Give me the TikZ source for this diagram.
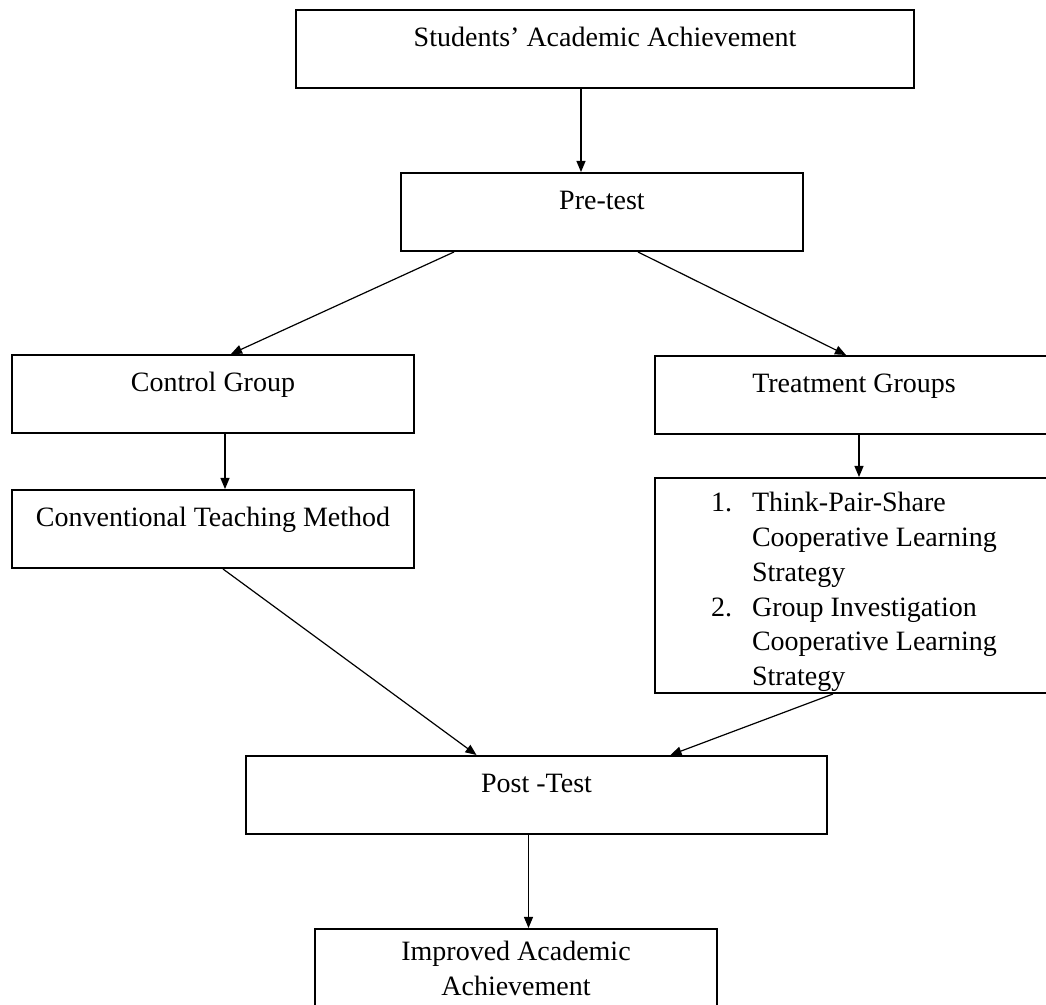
\documentclass[tikz,border=0pt]{standalone}
\usepackage{fontspec}
\setmainfont{Liberation Serif}
\usetikzlibrary{arrows.meta}

\begin{document}
\begin{tikzpicture}[x=0.5pt,y=-0.5pt,font=\fontsize{14}{17.35}\selectfont,
    box/.style={draw,line width=1pt,anchor=north west,inner sep=0pt,
      text height=18.5pt,text depth=20.5pt},
    flow/.style={-{Triangle[length=5.5pt,width=4.5pt]},line width=0.6pt}]
      \useasboundingbox (0,0) rectangle (1046,1005);
      \node[box,minimum width=309pt] (ach) at (295,9)
        {Students' Academic Achievement};
      \node[box,minimum width=201pt] (pre) at (400,172) {Pre-test};
      \node[box,minimum width=201pt] (ctrl) at (11,354) {Control Group};
      \node[box,minimum width=199pt] (treat) at (654,355) {Treatment Groups};
      \node[box,minimum width=201pt] (conv) at (11,489)
        {Conventional Teaching Method};
      \node[box,minimum width=199pt,text height=17pt,text depth=90.5pt]
        (strat) at (654,477)
        {\begin{tabular}[t]{@{}l@{\hspace{10pt}}l@{}}
          1. & Think-Pair-Share\\
             & Cooperative Learning\\
             & Strategy\\
          2. & Group Investigation\\
             & Cooperative Learning\\
             & Strategy
        \end{tabular}};
      \node[box,minimum width=290.5pt] (post) at (245,755) {Post -Test};
      \node[box,minimum width=201pt,text height=16pt,text depth=45pt]
        (impr) at (314,928)
        {\begin{tabular}[t]{@{}c@{}}
          Improved Academic\\
          Achievement
        \end{tabular}};
      \draw[flow] ([xshift=-12pt]ach.south) -- ([xshift=-12pt]ach.south |- pre.north);
      \draw[flow] ([xshift=-74pt]pre.south) -- ([xshift=9pt]ctrl.north);
      \draw[flow] ([xshift=18pt]pre.south) -- ([xshift=-4pt]treat.north);
      \draw[flow] ([xshift=6pt]ctrl.south) -- ([xshift=6pt]ctrl.south |- conv.north);
      \draw[flow] ([xshift=2.5pt]treat.south) -- ([xshift=2.5pt]treat.south |- strat.north);
      \draw[flow] ([xshift=5pt]conv.south) -- ([xshift=-30pt]post.north);
      \draw[flow] ([xshift=-10.5pt]strat.south) -- ([xshift=67pt]post.north);
      \draw[flow] ([xshift=-4pt]post.south) -- ([xshift=-4pt]post.south |- impr.north);
    \end{tikzpicture}
\end{document}
